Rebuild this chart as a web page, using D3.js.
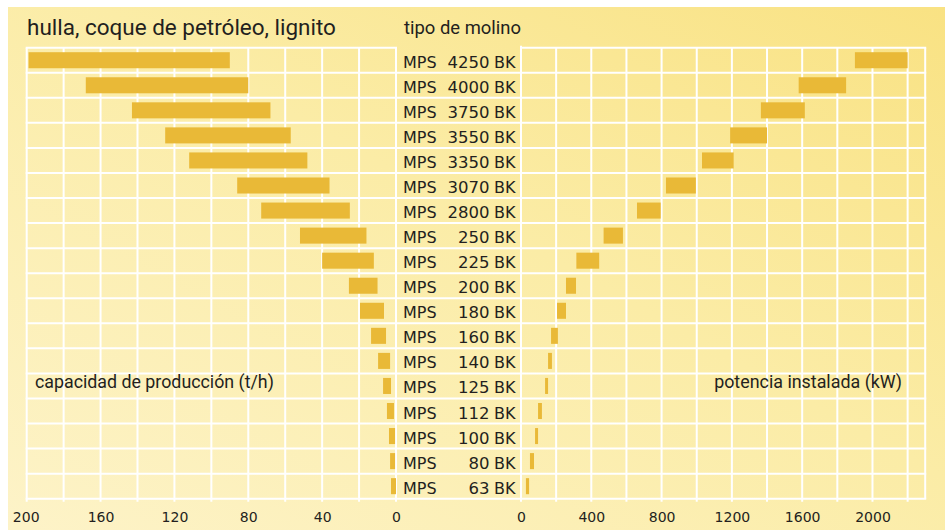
<!DOCTYPE html>
<html>
<head>
<meta charset="utf-8">
<script src="https://cdn.jsdelivr.net/npm/d3@7"></script>
<style>
  html, body { margin: 0; padding: 0; background: #ffffff; }
  svg { display: block; }
  text { font-family: "DejaVu Sans", sans-serif; fill: #231f20; }
  text.t { font-family: Roboto, "DejaVu Sans", sans-serif; }
</style>
</head>
<body>
<script>
// ---------- data ----------
const mills = ["4250","4000","3750","3550","3350","3070","2800","250","225","200","180","160","140","125","112","100","80","63"];
const capacityMin = [90, 80, 68, 57, 48, 36, 25, 16, 12, 10, 6.5, 5.4, 3.2, 2.7, 1.1, 0.5, 0.5, 0];
const capacityMax = [199, 168, 143, 125, 112, 86, 73, 52, 40, 25.5, 19.5, 13.5, 9.7, 7.0, 4.9, 3.8, 3.2, 2.7];
const powerMin = [1900, 1580, 1365, 1190, 1030, 825, 660, 470, 315, 256, 205, 171, 154, 137, 97, 80, 51, 28];
const powerMax = [2200, 1850, 1615, 1400, 1210, 995, 795, 580, 445, 313, 256, 210, 176, 154, 119, 97, 74, 46];
const capacityTicks = [200, 160, 120, 80, 40, 0];
const powerTicks = [0, 400, 800, 1200, 1600, 2000];
const titleText = "hulla, coque de petróleo, lignito";
const millHeader = "tipo de molino";
const capacityTitle = "capacidad de producción (t/h)";
const powerTitle = "potencia instalada (kW)";

// ---------- layout ----------
const W = 952, H = 530;
const svg = d3.select("body").append("svg").attr("width", W).attr("height", H);

const defs = svg.append("defs");
const grad = defs.append("linearGradient").attr("id", "bg")
  .attr("x1", "0%").attr("y1", "100%").attr("x2", "100%").attr("y2", "0%");
grad.append("stop").attr("offset", "0%").attr("stop-color", "#fdf3c8");
grad.append("stop").attr("offset", "55%").attr("stop-color", "#fbeca6");
grad.append("stop").attr("offset", "100%").attr("stop-color", "#f9e283");

svg.append("rect").attr("x", 8).attr("y", 7).attr("width", 937).attr("height", H - 7)
  .attr("fill", "url(#bg)");

const gTop = 47.7, gBottom = 498.7;
const xL = d3.scaleLinear().domain([0, 200]).range([396, 26.7]);
const xR = d3.scaleLinear().domain([0, 2300]).range([521, 925.2]);
const y = d3.scaleBand().domain(mills).range([gTop, gBottom]).padding(0);
const step = y.step();
const barH = step * 0.64;

const barColor = "#e9b937";
const gridColor = "#ffffff";

// ---------- grid ----------
const grid = svg.append("g").attr("stroke", gridColor).attr("stroke-width", 2).attr("fill", "none");

grid.selectAll("line.vl").data(d3.range(0, 201, 20)).join("line")
  .attr("x1", d => xL(d)).attr("x2", d => xL(d))
  .attr("y1", gTop).attr("y2", gBottom + 3);
grid.selectAll("line.vr").data(d3.range(0, 2201, 200).concat([2300])).join("line")
  .attr("x1", d => xR(d)).attr("x2", d => xR(d))
  .attr("y1", d => d === 0 ? gTop - 2 : gTop).attr("y2", d => d === 2300 ? gBottom : gBottom + 3);

grid.append("line").attr("x1", xL(200) - 1).attr("x2", xL(0) + 1).attr("y1", gTop).attr("y2", gTop);
grid.append("line").attr("x1", xR(0) - 1).attr("x2", xR(2300) + 1).attr("y1", gTop).attr("y2", gTop);
grid.selectAll("line.h").data(mills.slice(1)).join("line")
  .attr("x1", xL(200) - 1).attr("x2", xR(2300) + 1)
  .attr("y1", d => y(d)).attr("y2", d => y(d));
grid.append("line").attr("x1", xL(200) - 1).attr("x2", xR(2300) + 1).attr("y1", gBottom).attr("y2", gBottom);

// ---------- bars ----------
const rowsData = mills.map((m, i) => ({ m, cMin: capacityMin[i], cMax: capacityMax[i], pMin: powerMin[i], pMax: powerMax[i] }));

svg.append("g").selectAll("rect").data(rowsData).join("rect")
  .attr("x", d => xL(d.cMax)).attr("width", d => xL(d.cMin) - xL(d.cMax))
  .attr("y", d => y(d.m) + (step - barH) / 2).attr("height", barH)
  .attr("fill", barColor);

svg.append("g").selectAll("rect").data(rowsData).join("rect")
  .attr("x", d => xR(d.pMin)).attr("width", d => xR(d.pMax) - xR(d.pMin))
  .attr("y", d => y(d.m) + (step - barH) / 2).attr("height", barH)
  .attr("fill", barColor);

// ---------- texts ----------
function fit(t, w) {
  const cur = +t.attr("font-size");
  const len = t.node().getComputedTextLength();
  if (len > 0) t.attr("font-size", (cur * w / len).toFixed(2));
}

const title = svg.append("text").attr("class", "t").attr("x", 27).attr("y", 35).attr("font-size", 20).text(titleText);
fit(title, 309);
const header = svg.append("text").attr("class", "t").attr("x", 404).attr("y", 34).attr("font-size", 15).text(millHeader);
fit(header, 117);

const labels = svg.append("g").attr("font-size", 16);
labels.selectAll("text.mps").data(mills).join("text")
  .attr("x", 403).attr("y", d => y(d) + step / 2 + 7.5).text("MPS");
labels.selectAll("text.num").data(mills).join("text")
  .attr("x", 489.5).attr("y", d => y(d) + step / 2 + 7.5).attr("text-anchor", "end")
  .attr("font-size", 16.5).text(d => d);
labels.selectAll("text.bk").data(mills).join("text")
  .attr("x", 494).attr("y", d => y(d) + step / 2 + 7.5).text("BK");

const capT = svg.append("text").attr("class", "t").attr("x", 35).attr("y", 388).attr("font-size", 16).text(capacityTitle);
fit(capT, 239);
const powT = svg.append("text").attr("class", "t").attr("x", 902).attr("y", 388).attr("font-size", 16)
  .attr("text-anchor", "end").text(powerTitle);
fit(powT, 188);

// ---------- axis tick labels ----------
const axL = svg.append("g").attr("transform", `translate(0,${gBottom})`)
  .call(d3.axisBottom(xL).tickValues(capacityTicks).tickSize(0).tickPadding(13).tickFormat(d3.format("d")));
const axR = svg.append("g").attr("transform", `translate(0,${gBottom})`)
  .call(d3.axisBottom(xR).tickValues(powerTicks).tickSize(0).tickPadding(13).tickFormat(d3.format("d")));
[axL, axR].forEach(ax => {
  ax.select(".domain").remove();
  ax.selectAll("text").attr("font-family", "DejaVu Sans, sans-serif").attr("font-size", 14).attr("fill", "#231f20");
});
axL.selectAll(".tick").filter(d => d === 200).select("text").attr("dx", -1);
</script>
</body>
</html>
